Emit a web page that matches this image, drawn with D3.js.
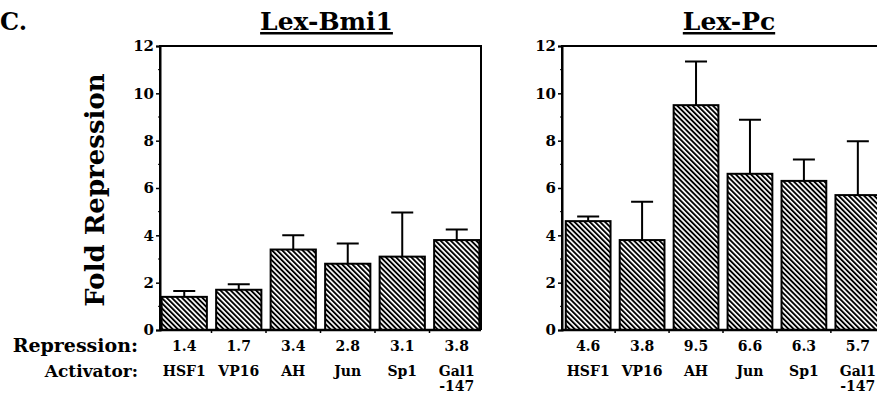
<!DOCTYPE html>
<html>
<head>
<meta charset="utf-8">
<script src="https://cdn.jsdelivr.net/npm/d3@7/dist/d3.min.js"></script>
<style>
  body { margin: 0; background: #fff; }
  text { font-family: "DejaVu Serif", serif; font-weight: bold; fill: #000; }
</style>
</head>
<body>
<script>
const WIDTH = 877
const HEIGHT = 394

// activators (x categories)
const ACTIVATORS = ['HSF1', 'VP16', 'AH', 'Jun', 'Sp1', 'Gal1\n-147']
// fold repression, bar heights
const BMI1_VALUES = [1.4, 1.7, 3.4, 2.8, 3.1, 3.8]
const BMI1_ERRORS = [1.65, 1.93, 4.0, 3.65, 4.97, 4.25]
const PC_VALUES = [4.6, 3.8, 9.5, 6.6, 6.3, 5.7]
const PC_ERRORS = [4.8, 5.42, 11.35, 8.88, 7.2, 7.98]
const Y_TICKS = [0, 2, 4, 6, 8, 10, 12]
const Y_MINOR = [1, 3, 5, 7, 9, 11]

const svg = d3.select('body').append('svg')
  .attr('width', WIDTH)
  .attr('height', HEIGHT)

// hachures
svg.append('defs').append('pattern')
  .attr('id', 'hatch')
  .attr('patternUnits', 'userSpaceOnUse')
  .attr('width', 3.6)
  .attr('height', 3.6)
  .attr('patternTransform', 'rotate(-45)')
  .append('rect')
  .attr('width', 1.9)
  .attr('height', 3.6)
  .attr('fill', '#000')

const y = d3.scaleLinear().domain([0, 12]).range([330, 46])

function panel(title, values, errors, x0, x1, outer) {
  const x = d3.scaleBand()
    .domain(ACTIVATORS)
    .range([x0, x1])
    .paddingInner(0.17)
    .paddingOuter(outer)
  const g = svg.append('g')

  // cadre
  g.append('path')
    .attr('d', `M${x0},${y(0)}V${y(12)}H${x1}V${y(0)}`)
    .attr('fill', 'none')
    .attr('stroke', '#000')
    .attr('stroke-width', 2)

  // axe y
  const yAxis = g.append('g')
    .attr('transform', `translate(${x0},0)`)
    .call(d3.axisLeft(y).tickValues(Y_TICKS).tickSize(4).tickPadding(2))
  yAxis.select('.domain').attr('stroke-width', 2)
  yAxis.selectAll('line').attr('stroke-width', 1.5)
  yAxis.selectAll('text')
    .style('font-family', '"DejaVu Serif", serif')
    .style('font-weight', 'bold')
    .style('font-size', '15px')
  g.selectAll('.minor')
    .data(Y_MINOR)
    .enter()
    .append('line')
    .attr('x1', x0 - 2)
    .attr('x2', x0)
    .attr('y1', y)
    .attr('y2', y)
    .attr('stroke', '#000')

  // axe x
  g.append('line')
    .attr('x1', x0)
    .attr('x2', x1)
    .attr('y1', y(0))
    .attr('y2', y(0))
    .attr('stroke', '#000')
    .attr('stroke-width', 2.5)
  const step = x.step()
  g.selectAll('.xtick')
    .data(ACTIVATORS.slice(1))
    .enter()
    .append('line')
    .attr('x1', d => x(d) - (step - x.bandwidth()) / 2)
    .attr('x2', d => x(d) - (step - x.bandwidth()) / 2)
    .attr('y1', y(0))
    .attr('y2', y(0) + 3)
    .attr('stroke', '#000')
    .attr('stroke-width', 1.5)

  // barres d'erreur
  g.selectAll('.err')
    .data(values)
    .enter()
    .append('path')
    .attr('d', (d, i) => {
      const cx = x(ACTIVATORS[i]) + x.bandwidth() / 2
      return `M${cx},${y(d)}V${y(errors[i])}M${cx - 11},${y(errors[i])}H${cx + 11}`
    })
    .attr('fill', 'none')
    .attr('stroke', '#000')
    .attr('stroke-width', 2)

  // barres
  g.selectAll('.bar')
    .data(values)
    .enter()
    .append('rect')
    .attr('x', (d, i) => x(ACTIVATORS[i]))
    .attr('width', x.bandwidth())
    .attr('y', d => y(d))
    .attr('height', d => y(0) - y(d))
    .attr('fill', 'url(#hatch)')
    .attr('stroke', '#000')
    .attr('stroke-width', 2)

  // valeurs de répression
  g.selectAll('.val')
    .data(values)
    .enter()
    .append('text')
    .attr('x', (d, i) => x(ACTIVATORS[i]) + x.bandwidth() / 2)
    .attr('y', 351)
    .attr('text-anchor', 'middle')
    .style('font-size', '14px')
    .text(d => d.toFixed(1))

  // activateurs
  const names = g.selectAll('.name')
    .data(ACTIVATORS)
    .enter()
    .append('text')
    .attr('x', d => x(d) + x.bandwidth() / 2)
    .attr('y', 376)
    .attr('text-anchor', 'middle')
    .style('font-size', '14px')
  names.selectAll('tspan')
    .data(d => d.split('\n'))
    .enter()
    .append('tspan')
    .attr('x', function () { return this.parentNode.getAttribute('x') })
    .attr('dy', (d, i) => i ? 14.5 : 0)
    .text(d => d)

  // titre
  g.append('text')
    .attr('x', (x0 + x1) / 2 + 6)
    .attr('y', 30)
    .attr('text-anchor', 'middle')
    .attr('text-decoration', 'underline')
    .style('font-size', '25px')
    .text(title)
}

panel('Lex-Bmi1', BMI1_VALUES, BMI1_ERRORS, 160, 481, 0.03)
panel('Lex-Pc', PC_VALUES, PC_ERRORS, 562, 884, 0.07)

svg.append('text')
  .attr('x', 0)
  .attr('y', 30)
  .style('font-size', '24px')
  .text('C.')

svg.append('text')
  .attr('transform', 'translate(104,190) rotate(-90)')
  .attr('text-anchor', 'middle')
  .style('font-size', '26px')
  .text('Fold Repression')

svg.append('text')
  .attr('x', 138)
  .attr('y', 352)
  .attr('text-anchor', 'end')
  .style('font-size', '19px')
  .text('Repression:')

svg.append('text')
  .attr('x', 138)
  .attr('y', 377)
  .attr('text-anchor', 'end')
  .style('font-size', '17px')
  .text('Activator:')
</script>
</body>
</html>
